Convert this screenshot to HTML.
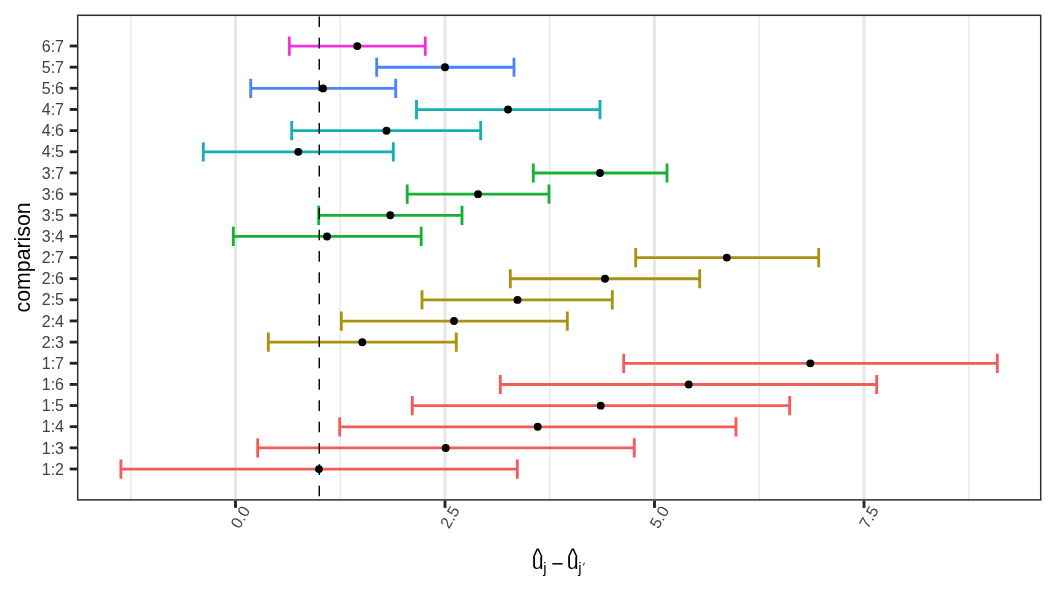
<!DOCTYPE html>
<html><head><meta charset="utf-8"><title>comparison plot</title>
<style>html,body{margin:0;padding:0;background:#fff}svg{display:block}text{font-family:"Liberation Sans",sans-serif}</style></head><body>
<svg width="1056" height="595" viewBox="0 0 1056 595">
<rect width="1056" height="595" fill="#fff"/>
<g stroke="#E6E6E6" fill="none">
<line x1="130.75" x2="130.75" y1="14.6" y2="500.6" stroke="#EAEAEA" stroke-width="1.42"/>
<line x1="340.25" x2="340.25" y1="14.6" y2="500.6" stroke="#EAEAEA" stroke-width="1.42"/>
<line x1="549.75" x2="549.75" y1="14.6" y2="500.6" stroke="#EAEAEA" stroke-width="1.42"/>
<line x1="759.25" x2="759.25" y1="14.6" y2="500.6" stroke="#EAEAEA" stroke-width="1.42"/>
<line x1="968.75" x2="968.75" y1="14.6" y2="500.6" stroke="#EAEAEA" stroke-width="1.42"/>
<line x1="235.50" x2="235.50" y1="14.6" y2="500.6" stroke-width="2.845"/>
<line x1="445.00" x2="445.00" y1="14.6" y2="500.6" stroke-width="2.845"/>
<line x1="654.50" x2="654.50" y1="14.6" y2="500.6" stroke-width="2.845"/>
<line x1="864.00" x2="864.00" y1="14.6" y2="500.6" stroke-width="2.845"/>
</g>
<g fill="none" stroke-width="2.845">
<path stroke="#EE33DD" d="M289.30 36.50V55.70M289.30 46.10H425.30M425.30 36.50V55.70"/>
<path stroke="#4A82FF" d="M376.70 57.65V76.85M376.70 67.25H514.00M514.00 57.65V76.85"/>
<path stroke="#4A82FF" d="M250.70 78.80V98.00M250.70 88.40H395.70M395.70 78.80V98.00"/>
<path stroke="#14AEB3" d="M416.50 99.95V119.15M416.50 109.55H600.00M600.00 99.95V119.15"/>
<path stroke="#14AEB3" d="M291.70 121.10V140.30M291.70 130.70H480.70M480.70 121.10V140.30"/>
<path stroke="#14AEB3" d="M203.30 142.25V161.45M203.30 151.85H393.30M393.30 142.25V161.45"/>
<path stroke="#17B233" d="M533.30 163.40V182.60M533.30 173.00H667.00M667.00 163.40V182.60"/>
<path stroke="#17B233" d="M407.20 184.55V203.75M407.20 194.15H549.00M549.00 184.55V203.75"/>
<path stroke="#17B233" d="M318.70 205.70V224.90M318.70 215.30H462.00M462.00 205.70V224.90"/>
<path stroke="#17B233" d="M233.30 226.85V246.05M233.30 236.45H421.20M421.20 226.85V246.05"/>
<path stroke="#A8920F" d="M635.70 248.00V267.20M635.70 257.60H818.70M818.70 248.00V267.20"/>
<path stroke="#A8920F" d="M510.30 269.15V288.35M510.30 278.75H699.70M699.70 269.15V288.35"/>
<path stroke="#A8920F" d="M422.00 290.30V309.50M422.00 299.90H612.30M612.30 290.30V309.50"/>
<path stroke="#A8920F" d="M341.30 311.45V330.65M341.30 321.05H567.30M567.30 311.45V330.65"/>
<path stroke="#A8920F" d="M268.30 332.60V351.80M268.30 342.20H456.30M456.30 332.60V351.80"/>
<path stroke="#F25C59" d="M623.70 353.75V372.95M623.70 363.35H997.30M997.30 353.75V372.95"/>
<path stroke="#F25C59" d="M500.30 374.90V394.10M500.30 384.50H876.70M876.70 374.90V394.10"/>
<path stroke="#F25C59" d="M412.30 396.05V415.25M412.30 405.65H789.70M789.70 396.05V415.25"/>
<path stroke="#F25C59" d="M339.70 417.20V436.40M339.70 426.80H736.00M736.00 417.20V436.40"/>
<path stroke="#F25C59" d="M257.70 438.35V457.55M257.70 447.95H634.30M634.30 438.35V457.55"/>
<path stroke="#F25C59" d="M120.90 459.50V478.70M120.90 469.10H517.30M517.30 459.50V478.70"/>
</g>
<line x1="319.25" x2="319.25" y1="16.4" y2="500.6" stroke="#000" stroke-width="1.42" stroke-dasharray="10.67 10.66"/>
<g fill="#000">
<circle cx="357.30" cy="46.10" r="3.95"/>
<circle cx="445.00" cy="67.25" r="3.95"/>
<circle cx="323.00" cy="88.40" r="3.95"/>
<circle cx="508.00" cy="109.55" r="3.95"/>
<circle cx="386.50" cy="130.70" r="3.95"/>
<circle cx="298.30" cy="151.85" r="3.95"/>
<circle cx="600.00" cy="173.00" r="3.95"/>
<circle cx="478.00" cy="194.15" r="3.95"/>
<circle cx="390.30" cy="215.30" r="3.95"/>
<circle cx="327.00" cy="236.45" r="3.95"/>
<circle cx="726.80" cy="257.60" r="3.95"/>
<circle cx="605.00" cy="278.75" r="3.95"/>
<circle cx="517.50" cy="299.90" r="3.95"/>
<circle cx="454.00" cy="321.05" r="3.95"/>
<circle cx="362.30" cy="342.20" r="3.95"/>
<circle cx="810.30" cy="363.35" r="3.95"/>
<circle cx="688.70" cy="384.50" r="3.95"/>
<circle cx="600.70" cy="405.65" r="3.95"/>
<circle cx="537.70" cy="426.80" r="3.95"/>
<circle cx="445.70" cy="447.95" r="3.95"/>
<circle cx="319.00" cy="469.10" r="3.95"/>
</g>
<rect x="77.7" y="15.3" width="963.00" height="484.60" fill="none" stroke="#2e2e2e" stroke-width="1.5"/>
<g stroke="#222222" stroke-width="2.845">
<line x1="69.70" x2="77.00" y1="46.00" y2="46.00"/>
<line x1="69.70" x2="77.00" y1="67.15" y2="67.15"/>
<line x1="69.70" x2="77.00" y1="88.30" y2="88.30"/>
<line x1="69.70" x2="77.00" y1="109.45" y2="109.45"/>
<line x1="69.70" x2="77.00" y1="130.60" y2="130.60"/>
<line x1="69.70" x2="77.00" y1="151.75" y2="151.75"/>
<line x1="69.70" x2="77.00" y1="172.90" y2="172.90"/>
<line x1="69.70" x2="77.00" y1="194.05" y2="194.05"/>
<line x1="69.70" x2="77.00" y1="215.20" y2="215.20"/>
<line x1="69.70" x2="77.00" y1="236.35" y2="236.35"/>
<line x1="69.70" x2="77.00" y1="257.50" y2="257.50"/>
<line x1="69.70" x2="77.00" y1="278.65" y2="278.65"/>
<line x1="69.70" x2="77.00" y1="299.80" y2="299.80"/>
<line x1="69.70" x2="77.00" y1="320.95" y2="320.95"/>
<line x1="69.70" x2="77.00" y1="342.10" y2="342.10"/>
<line x1="69.70" x2="77.00" y1="363.25" y2="363.25"/>
<line x1="69.70" x2="77.00" y1="384.40" y2="384.40"/>
<line x1="69.70" x2="77.00" y1="405.55" y2="405.55"/>
<line x1="69.70" x2="77.00" y1="426.70" y2="426.70"/>
<line x1="69.70" x2="77.00" y1="447.85" y2="447.85"/>
<line x1="69.70" x2="77.00" y1="469.00" y2="469.00"/>
<line x1="235.50" x2="235.50" y1="500.60" y2="507.90"/>
<line x1="445.00" x2="445.00" y1="500.60" y2="507.90"/>
<line x1="654.50" x2="654.50" y1="500.60" y2="507.90"/>
<line x1="864.00" x2="864.00" y1="500.60" y2="507.90"/>
</g>
<g fill="#424242" font-size="16" text-anchor="end">
<text x="64" y="51.65">6:7</text>
<text x="64" y="72.80">5:7</text>
<text x="64" y="93.95">5:6</text>
<text x="64" y="115.10">4:7</text>
<text x="64" y="136.25">4:6</text>
<text x="64" y="157.40">4:5</text>
<text x="64" y="178.55">3:7</text>
<text x="64" y="199.70">3:6</text>
<text x="64" y="220.85">3:5</text>
<text x="64" y="242.00">3:4</text>
<text x="64" y="263.15">2:7</text>
<text x="64" y="284.30">2:6</text>
<text x="64" y="305.45">2:5</text>
<text x="64" y="326.60">2:4</text>
<text x="64" y="347.75">2:3</text>
<text x="64" y="368.90">1:7</text>
<text x="64" y="390.05">1:6</text>
<text x="64" y="411.20">1:5</text>
<text x="64" y="432.35">1:4</text>
<text x="64" y="453.50">1:3</text>
<text x="64" y="474.65">1:2</text>
</g>
<g fill="#424242" font-size="16" text-anchor="middle">
<text transform="translate(240.20,517.1) rotate(-60)" y="5.73">0.0</text>
<text transform="translate(449.70,517.1) rotate(-60)" y="5.73">2.5</text>
<text transform="translate(659.20,517.1) rotate(-60)" y="5.73">5.0</text>
<text transform="translate(868.70,517.1) rotate(-60)" y="5.73">7.5</text>
</g>
<text transform="translate(30.2,257.4) rotate(-90)" text-anchor="middle" font-size="21.33" fill="#000">comparison</text>
<g fill="#000" font-size="21.33">
<text x="531.8" y="568.6">u</text><text transform="translate(532.7,565.0) scale(1,1.12)" font-size="21.33">^</text><text x="543.2" y="572.5" font-size="14.93">j</text>
<text x="551.2" y="570.6">−</text>
<text x="566.8" y="568.6">u</text><text transform="translate(567.7,565.0) scale(1,1.12)" font-size="21.33">^</text><text x="578.2" y="572.5" font-size="14.93">j</text><text transform="translate(581.3,570.8) skewX(-12)" font-size="12">′</text>
</g>
</svg></body></html>
